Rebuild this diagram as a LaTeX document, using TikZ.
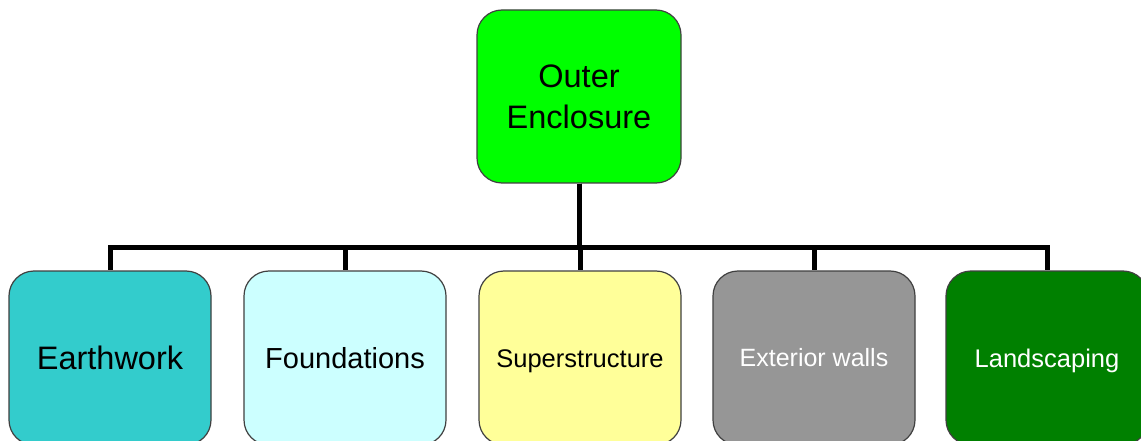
\documentclass[tikz,border=0pt]{standalone}
\usepackage{fontspec}
\setmainfont{Liberation Sans}
\begin{document}
\begin{tikzpicture}[x=1pt,y=-1pt,
  box/.style={draw=black!75,line width=1.2pt,rounded corners=25pt,
    minimum width=202pt,minimum height=174pt,inner sep=0pt,
    align=center,text depth=0pt},
  link/.style={line width=5pt,draw=black}]
  \clip (0,0) rectangle (1141,441);
  \fill[white] (0,0) rectangle (1141,441);

  % top of the hierarchy
  \node[box,fill={rgb,255:red,0;green,255;blue,0},minimum width=204pt,minimum height=173pt,
        font=\fontsize{32.5}{41}\selectfont,text height=64.3pt,text depth=0pt]
        (top) at (579,96.5) {Outer\\Enclosure};

  % second level
  \node[box,fill={rgb,255:red,51;green,204;blue,204},
        font=\fontsize{32.5}{39}\selectfont,text height=23.3pt]
        (earth) at (110,358) {Earthwork};
  \node[box,fill={rgb,255:red,204;green,255;blue,255},
        font=\fontsize{29}{35}\selectfont,text height=20.8pt]
        (found) at (345,358) {Foundations};
  \node[box,fill={rgb,255:red,255;green,255;blue,153},
        font=\fontsize{25.5}{31}\selectfont,text height=18.3pt]
        (super) at (580,358) {Superstructure};
  \node[box,fill={rgb,255:red,150;green,150;blue,150},text=white,
        font=\fontsize{25}{30}\selectfont,text height=17.9pt]
        (walls) at (814,358) {Exterior walls};
  \node[box,fill={rgb,255:red,0;green,128;blue,0},text=white,
        font=\fontsize{25.5}{31}\selectfont,text height=18.3pt]
        (land) at (1047,358) {Landscaping};

  % bus connecting the levels
  \coordinate (bus) at (580,247);
  \foreach \c in {earth,found,super,walls,land}
    \draw[link] (top.south) -- (top.south |- bus) -| (\c.north);
\end{tikzpicture}
\end{document}
